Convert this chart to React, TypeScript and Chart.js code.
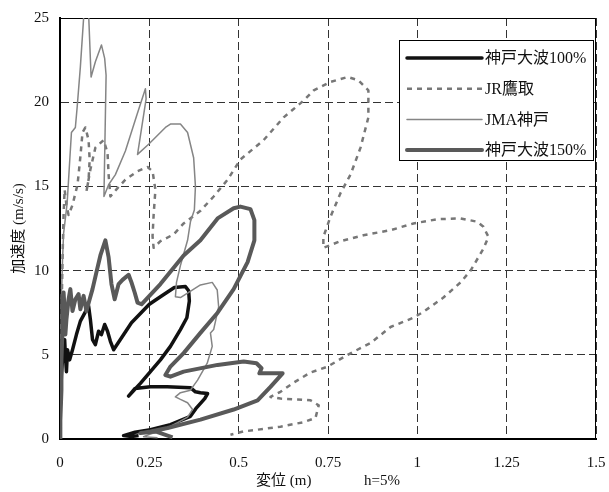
import React, { useEffect, useRef } from "react";
import { Chart, registerables } from "chart.js";
Chart.register(...registerables);

const FONT = "'Liberation Serif', 'Times New Roman', 'Noto Sans CJK JP', serif";

const xTickLabels = ["0", "0.25", "0.5", "0.75", "1", "1.25", "1.5"];
const yTickLabels = ["0", "5", "10", "15", "20", "25"];
const seriesNames = ["神戸大波100%", "JR鷹取", "JMA神戸", "神戸大波150%"];
const xTitle = "変位 (m)              h=5%";
const yTitle = "加速度 (m/s/s)";

// 神戸大波100% : [displacement m, acceleration m/s/s]
const kobe100: [number, number][] = [
  [0.001, 2.0], [0.004, 3.8], [0.007, 4.7], [0.010, 5.6], [0.013, 5.9], [0.015, 5.0], [0.018, 4.0],
  [0.021, 5.3], [0.027, 4.7], [0.035, 5.3], [0.046, 6.2], [0.057, 7.0], [0.071, 7.55], [0.080, 7.9],
  [0.085, 7.1], [0.091, 5.9], [0.099, 5.6], [0.108, 6.4], [0.116, 6.2], [0.125, 6.8], [0.133, 6.4],
  [0.141, 5.8], [0.150, 5.3], [0.200, 6.9], [0.250, 8.0], [0.281, 8.45], [0.320, 9.0], [0.351, 9.05],
  [0.360, 8.8], [0.362, 8.2], [0.355, 7.2], [0.337, 6.5], [0.309, 5.5], [0.281, 4.7], [0.253, 4.0],
  [0.225, 3.3], [0.192, 2.55], [0.210, 3.0], [0.253, 3.1], [0.300, 3.1], [0.365, 3.05], [0.379, 2.8],
  [0.393, 2.75], [0.413, 2.7], [0.405, 2.4], [0.380, 1.8], [0.365, 1.35], [0.309, 0.85], [0.253, 0.55],
  [0.210, 0.4], [0.178, 0.2], [0.200, 0.15], [0.220, 0.2],
];

// JR鷹取
const jrTakatori: [number, number][] = [
  [0.0, 0.0], [0.001, 3.5], [0.004, 7.1], [0.007, 10.6], [0.010, 13.3], [0.013, 14.8], [0.018, 13.9],
  [0.024, 13.3], [0.035, 13.9], [0.049, 15.1], [0.057, 16.75], [0.063, 18.2], [0.071, 18.5], [0.080, 17.75],
  [0.083, 16.6], [0.080, 15.4], [0.074, 14.7], [0.085, 16.0], [0.099, 17.3], [0.122, 17.75], [0.133, 17.0],
  [0.136, 15.7], [0.141, 14.4], [0.161, 14.9], [0.183, 15.4], [0.217, 15.9], [0.245, 16.15], [0.259, 15.9],
  [0.267, 14.8], [0.262, 13.3], [0.259, 12.05], [0.262, 11.35], [0.281, 11.75], [0.318, 12.15], [0.346, 12.8],
  [0.393, 13.55], [0.430, 14.4], [0.469, 15.4], [0.505, 16.6], [0.570, 17.75], [0.626, 19.1], [0.682, 20.1],
  [0.710, 20.7], [0.757, 21.2], [0.805, 21.5], [0.835, 21.3], [0.863, 20.7], [0.863, 19.1], [0.841, 17.3],
  [0.813, 15.7], [0.785, 14.6], [0.757, 13.2], [0.737, 12.0], [0.737, 11.35], [0.785, 11.75], [0.849, 12.1],
  [0.925, 12.4], [0.989, 12.8], [1.056, 13.05], [1.121, 13.1], [1.168, 12.9], [1.185, 12.6], [1.199, 12.0],
  [1.185, 11.3], [1.149, 10.0], [1.121, 9.3], [1.073, 8.4], [1.017, 7.55], [0.989, 7.2], [0.925, 6.65],
  [0.869, 5.7], [0.805, 5.0], [0.749, 4.3], [0.701, 3.95], [0.654, 3.35], [0.617, 2.8], [0.589, 2.5],
  [0.617, 2.4], [0.665, 2.35], [0.701, 2.3], [0.724, 2.0], [0.715, 1.25], [0.682, 1.0], [0.617, 0.73],
  [0.570, 0.6], [0.514, 0.45], [0.477, 0.25],
];

// JMA神戸
const jmaKobe: [number, number][] = [
  [0.001, 0.0], [0.001, 2.3], [0.004, 5.3], [0.004, 8.3], [0.007, 10.6], [0.010, 12.2], [0.020, 14.0],
  [0.032, 18.2], [0.043, 18.5], [0.048, 19.7], [0.057, 22.1], [0.068, 25.6], [0.075, 26.2], [0.080, 25.3],
  [0.087, 21.5], [0.099, 22.4], [0.116, 23.4], [0.125, 22.6], [0.129, 21.6], [0.127, 19.2], [0.123, 14.4],
  [0.136, 15.1], [0.155, 15.7], [0.183, 17.1], [0.216, 19.3], [0.239, 20.8], [0.241, 20.2], [0.217, 16.9],
  [0.248, 17.5], [0.295, 18.5], [0.309, 18.7], [0.337, 18.7], [0.357, 18.2], [0.374, 16.7], [0.379, 15.0],
  [0.376, 13.6], [0.365, 12.9], [0.357, 11.8], [0.337, 10.3], [0.326, 9.3], [0.323, 8.45], [0.337, 8.4],
  [0.393, 9.15], [0.426, 9.3], [0.440, 8.85], [0.444, 7.85], [0.430, 6.5], [0.421, 6.3], [0.426, 5.5],
  [0.412, 4.5], [0.385, 3.5], [0.365, 2.9], [0.337, 2.75], [0.323, 2.5], [0.337, 2.35], [0.357, 2.15],
  [0.371, 1.75], [0.357, 1.3], [0.329, 0.97], [0.290, 0.55], [0.253, 0.3], [0.234, 0.14], [0.273, 0.08],
];

// 神戸大波150%
const kobe150: [number, number][] = [
  [0.001, 0.0], [0.001, 1.1], [0.004, 2.9], [0.004, 4.7], [0.007, 6.5], [0.007, 8.3], [0.010, 8.7],
  [0.013, 7.7], [0.015, 6.2], [0.018, 7.1], [0.024, 8.3], [0.029, 8.9], [0.035, 7.6], [0.043, 8.3],
  [0.052, 8.6], [0.057, 7.7], [0.066, 8.5], [0.074, 7.6], [0.083, 8.3], [0.091, 8.9], [0.103, 10.0],
  [0.113, 10.9], [0.127, 11.8], [0.136, 10.8], [0.144, 9.2], [0.153, 8.3], [0.164, 9.2], [0.175, 9.45],
  [0.192, 9.75], [0.200, 9.3], [0.209, 8.7], [0.217, 8.1], [0.228, 8.0], [0.281, 9.2], [0.346, 10.9],
  [0.393, 11.8], [0.441, 13.1], [0.486, 13.7], [0.505, 13.8], [0.533, 13.65], [0.544, 13.0], [0.544, 11.8],
  [0.525, 10.5], [0.486, 8.9], [0.441, 7.5], [0.393, 6.3], [0.346, 5.1], [0.309, 4.3], [0.295, 3.8],
  [0.309, 3.7], [0.346, 4.0], [0.441, 4.4], [0.514, 4.6], [0.550, 4.5], [0.564, 4.2], [0.558, 3.9],
  [0.623, 3.9], [0.589, 3.1], [0.553, 2.3], [0.486, 1.75], [0.393, 1.15], [0.301, 0.65], [0.253, 0.45],
  [0.225, 0.35], [0.267, 0.45], [0.315, 0.1],
];

const toPts = (arr: [number, number][]) => arr.map(([x, y]) => ({ x, y }));

const framePlugin = {
  id: "frame",
  beforeDatasetsDraw(chart: any) {
    const { ctx, chartArea: a } = chart;
    ctx.save();
    ctx.strokeStyle = "#000";
    ctx.lineWidth = 1;
    ctx.beginPath();
    ctx.moveTo(a.left, a.top + 0.5);
    ctx.lineTo(a.right - 0.5, a.top + 0.5);
    ctx.lineTo(a.right - 0.5, a.bottom);
    ctx.stroke();
    ctx.restore();
  },
};

const legendPlugin = {
  id: "boxLegend",
  afterDraw(chart: any) {
    const { ctx, chartArea: a } = chart;
    const x0 = a.right - 197;
    const y0 = a.top + 22;
    const w = 194;
    const h = 120;
    ctx.save();
    ctx.fillStyle = "#fff";
    ctx.fillRect(x0, y0, w, h);
    ctx.strokeStyle = "#000";
    ctx.lineWidth = 1;
    ctx.strokeRect(x0 + 0.5, y0 + 0.5, w, h);
    chart.data.datasets.forEach((ds: any, i: number) => {
      const y = y0 + 18 + i * 30.7;
      ctx.beginPath();
      const dash = ds.borderDash || [];
      ctx.setLineDash(dash);
      ctx.lineCap = dash.length ? "butt" : "round";
      ctx.strokeStyle = ds.borderColor;
      ctx.lineWidth = ds.borderWidth;
      ctx.moveTo(x0 + 8, y);
      ctx.lineTo(x0 + 83, y);
      ctx.stroke();
      ctx.setLineDash([]);
      ctx.fillStyle = "#111";
      ctx.font = `16px ${FONT}`;
      ctx.textBaseline = "middle";
      ctx.textAlign = "left";
      ctx.fillText(ds.label, x0 + 86, y + 1);
    });
    ctx.restore();
  },
};

export default function App() {
  const ref = useRef<HTMLCanvasElement>(null);
  useEffect(() => {
    document.body.style.margin = "0";
    const canvas = ref.current!;
    const common = { pointRadius: 0, showLine: true, tension: 0, clip: 0, borderJoinStyle: "round" as const };
    const chart = new Chart(canvas, {
      type: "scatter",
      data: {
        datasets: [
          { ...common, label: seriesNames[0], data: toPts(kobe100), borderColor: "#111111", backgroundColor: "#111111", borderWidth: 3.5, order: 3 },
          { ...common, label: seriesNames[1], data: toPts(jrTakatori), borderColor: "#777777", backgroundColor: "#777777", borderWidth: 2.5, borderDash: [5, 5], order: 2 },
          { ...common, label: seriesNames[2], data: toPts(jmaKobe), borderColor: "#858585", backgroundColor: "#858585", borderWidth: 1.5, order: 1 },
          { ...common, label: seriesNames[3], data: toPts(kobe150), borderColor: "#595959", backgroundColor: "#595959", borderWidth: 4, order: 0 },
        ],
      },
      options: {
        responsive: false,
        animation: false,
        events: [],
        layout: { padding: { top: 18, right: 13, left: 0, bottom: 0 } },
        plugins: { legend: { display: false }, tooltip: { enabled: false } },
        scales: {
          x: {
            type: "linear",
            min: 0,
            max: 1.5,
            ticks: {
              stepSize: 0.25,
              autoSkip: false,
              maxRotation: 0,
              padding: 15,
              color: "#111",
              font: { family: FONT, size: 15 },
              callback: (_v: any, i: number) => xTickLabels[i],
            },
            grid: { color: "#333", lineWidth: 1, drawTicks: false },
            border: { color: "#000", width: 2, dash: [8, 4] },
            title: { display: true, text: xTitle, color: "#111", font: { family: FONT, size: 15 }, padding: { top: 0, bottom: 2 } },
            afterFit: (s: any) => { s.height = 53; s.paddingLeft = 0; s.paddingRight = 0; },
          },
          y: {
            type: "linear",
            min: 0,
            max: 25,
            ticks: {
              stepSize: 5,
              padding: 11,
              color: "#111",
              font: { family: FONT, size: 15 },
              callback: (_v: any, i: number) => yTickLabels[i],
            },
            grid: { color: "#333", lineWidth: 1, drawTicks: false },
            border: { color: "#000", width: 2, dash: [8, 4] },
            title: { display: true, text: yTitle, color: "#111", font: { family: FONT, size: 15 }, padding: { top: 10, bottom: 0 } },
            afterFit: (s: any) => { s.width = 60; s.paddingTop = 0; s.paddingBottom = 0; },
          },
        },
      },
      plugins: [framePlugin, legendPlugin],
    } as any);
    return () => chart.destroy();
  }, []);
  return <canvas ref={ref} width={609} height={492} style={{ display: "block" }} />;
}
